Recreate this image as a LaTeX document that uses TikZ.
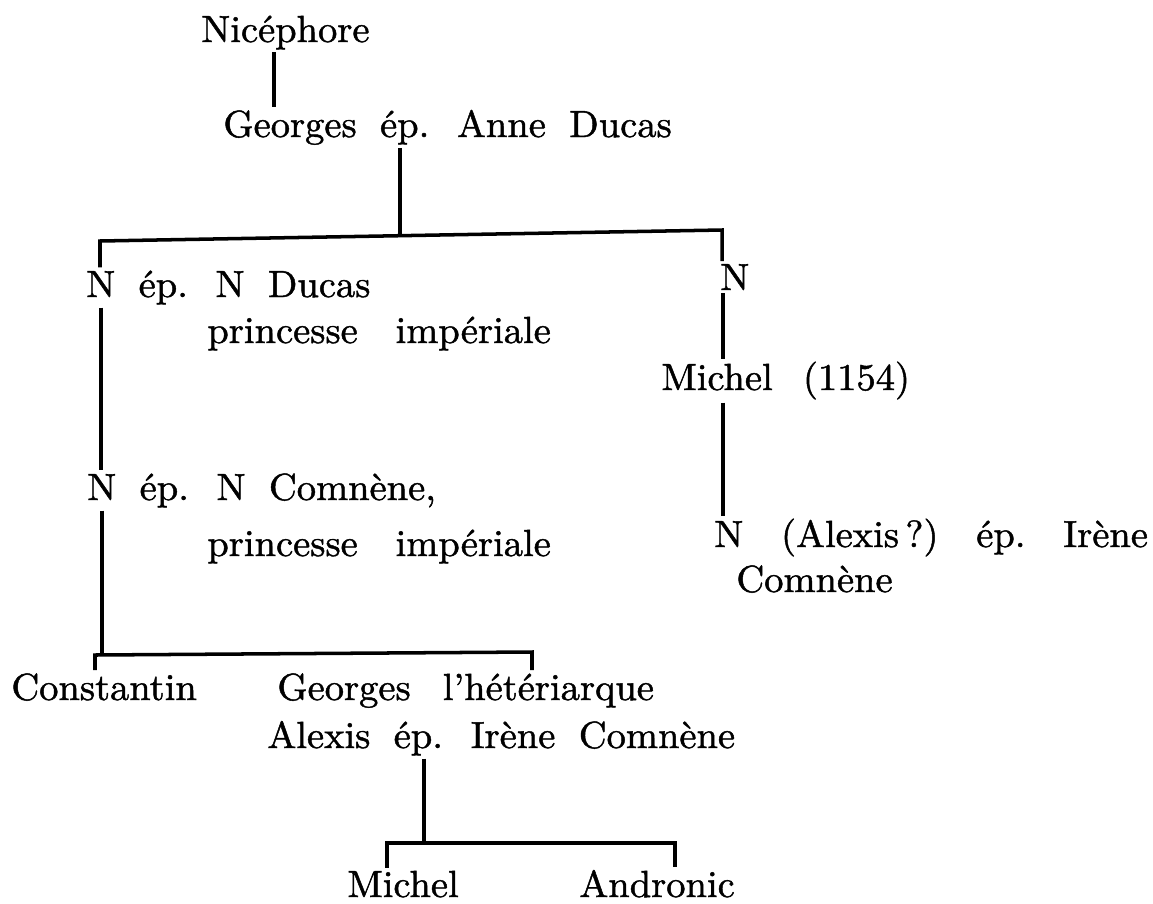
\documentclass[tikz,border=0pt]{standalone}
\usepackage{fontspec}
\setmainfont{lmroman10-regular.otf}[FakeStretch=1.02, FakeBold=1.2]
\usepackage{tikz}
\usetikzlibrary{calc}
\newcommand\famfont{\fontsize{21.5}{26}\selectfont\spaceskip=0.62em plus 0.1em\relax}

\begin{document}
\begin{tikzpicture}[ultra thick,
        name_style/.style={inner xsep=0pt, inner ysep=1pt, anchor=base west, font=\famfont},
        edge_style/.style={draw=black, line width=2pt}]
        \useasboundingbox (0,0) rectangle (23.06,-18.06);

            \node [name_style](nic) at (4.00,-0.84) {Nicéphore};
            \node [name_style](geo) at (4.44,-2.74) {Georges ép. Anne Ducas};
            \node [name_style](nd1) at (1.70,-5.94) {N ép. N Ducas};
            \node [name_style](pi1) at (4.12,-6.86) {princesse\hspace{1em}impériale};
            \node [name_style](nr) at (14.38,-5.80) {N};
            \node [name_style](mi1) at (13.20,-7.80) {Michel\hspace{0.8em}(1154)};
            \node [name_style](nx) at (14.26,-10.94) {N\hspace{1em}(Alexis\,?)\hspace{1em}ép.\hspace{1em}Irène};
            \node [name_style](co1) at (14.70,-11.84) {Comnène};
            \node [name_style](nd2) at (1.72,-10.00) {N ép. N Comnène,};
            \node [name_style](pi2) at (4.12,-11.12) {princesse\hspace{1em}impériale};
            \node [name_style](con) at (0.20,-14.00) {Constantin};
            \node [name_style](gh) at (5.52,-14.00) {Georges\hspace{0.85em}l’hétériarque};
            \node [name_style](al) at (5.32,-14.96) {Alexis ép. Irène Comnène};
            \node [name_style](mi2) at (6.92,-17.94) {Michel};
            \node [name_style](an) at (11.56,-17.94) {Andronic};

            \coordinate (t1) at (5.48,0);
            \coordinate (j1) at (8.00,-4.70);
            \coordinate (a1) at (2.00,-4.82);
            \coordinate (a2) at (14.44,-4.60);
            \coordinate (t2) at (2.02,0);
            \coordinate (j2) at (2.04,-13.10);
            \coordinate (b1) at (1.90,-13.10);
            \coordinate (b2) at (10.64,-13.04);
            \coordinate (j3) at (8.48,-16.86);
            \coordinate (c1) at (7.74,-16.86);
            \coordinate (c2) at (13.50,-16.86);
            \coordinate (t3) at (14.46,0);

            \draw [edge_style] (t1 |- nic.south) -- (t1 |- geo.north);
            \draw [edge_style] (j1 |- geo.south) -- (j1);
            \draw [edge_style] (a1 |- nd1.north) -- (a1) -- (a2) -- (a2 |- nr.north);
            \draw [edge_style] (t2 |- nd1.south) -- (t2 |- nd2.north);
            \draw [edge_style] (j2 |- nd2.south) -- (j2);
            \draw [edge_style] (b1 |- con.north) -- (b1) -- (b2) -- (b2 |- gh.north);
            \draw [edge_style] (j3 |- al.south) -- (j3);
            \draw [edge_style] (c1 |- mi2.north) -- (c1) -- (c2) -- (c2 |- an.north);
            \draw [edge_style] (t3 |- nr.south) -- (t3 |- mi1.north);
            \draw [edge_style] (t3 |- mi1.south) -- (t3 |- nx.north);

        \end{tikzpicture}
\end{document}
